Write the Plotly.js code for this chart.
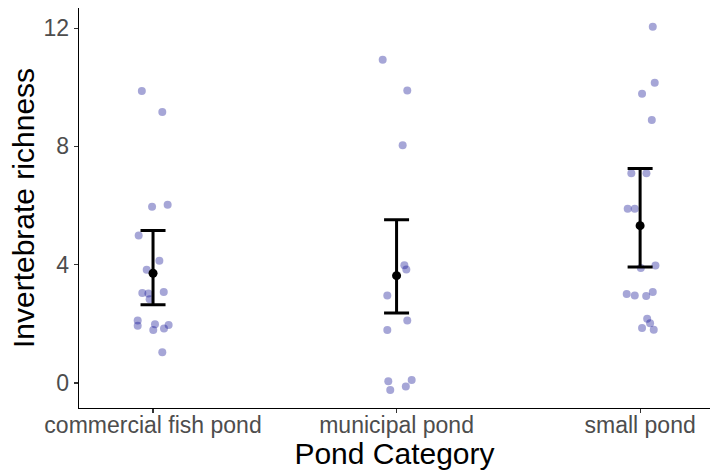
<!DOCTYPE html>
<html><head><meta charset="utf-8">
<script src="https://cdn.plot.ly/plotly-3.0.1.min.js"></script>
<style>body{margin:0;padding:0;background:#fff}#chart{width:710px;height:470px}</style>
</head><body><div id="chart"></div>
<script>
const categories = ["commercial fish pond", "municipal pond", "small pond"];

// observed (jittered) richness values per pond category
const commercialY = [9.87, 9.16, 5.96, 6.03, 4.99, 4.13, 3.83, 3.04, 3.03, 2.83, 3.08, 2.11, 1.94, 1.99, 1.79, 1.84, 1.96, 1.04];
const commercialJit = [-0.046, 0.038, -0.004, 0.060, -0.059, 0.026, -0.026, -0.044, -0.019, -0.014, 0.044, -0.063, -0.063, 0.008, 0.001, 0.045, 0.064, 0.038];
const municipalY = [10.93, 9.89, 8.04, 3.98, 3.84, 2.96, 2.11, 1.79, 0.06, -0.24, 0.10, -0.12];
const municipalJit = [-0.057, 0.044, 0.025, 0.032, 0.040, -0.038, 0.044, -0.038, -0.034, -0.026, 0.062, 0.038];
const smallY = [12.05, 10.15, 9.78, 8.89, 7.09, 7.09, 5.89, 5.89, 3.89, 3.97, 3.01, 2.96, 2.94, 3.08, 2.17, 2.02, 1.86, 1.80];
const smallJit = [0.052, 0.060, 0.008, 0.048, -0.036, 0.026, -0.051, -0.022, 0.003, 0.063, -0.055, -0.022, 0.025, 0.052, 0.029, 0.041, 0.008, 0.056];

// summary: mean and confidence interval
const means = [3.71, 3.63, 5.32];
const upper = [5.16, 5.52, 7.25];
const lower = [2.65, 2.37, 3.92];

const groupsY = [commercialY, municipalY, smallY];
const groupsJit = [commercialJit, municipalJit, smallJit];

const px = [], py = [];
groupsY.forEach((ys, g) => {
  ys.forEach((v, i) => { px.push(g + groupsJit[g][i]); py.push(v); });
});

const catIdx = categories.map((c, i) => i);

const traces = [
  {
    type: 'scatter', mode: 'markers', x: px, y: py, hoverinfo: 'skip',
    marker: {size: 8, color: 'rgba(0,0,139,0.35)', line: {width: 0}}
  },
  {
    type: 'scatter', mode: 'markers', x: catIdx, y: means,
    marker: {size: 9, color: '#000'},
    error_y: {
      type: 'data', symmetric: false,
      array: upper.map((u, i) => u - means[i]),
      arrayminus: means.map((m, i) => m - lower[i]),
      color: '#000', thickness: 3, width: 12.5
    }
  }
];

const layout = {
  width: 710, height: 470,
  margin: {l: 79, r: 0, t: 8, b: 62},
  paper_bgcolor: '#fff', plot_bgcolor: '#fff',
  showlegend: false,
  font: {family: 'Liberation Sans, Arial, sans-serif'},
  xaxis: {
    range: [-0.304, 2.287], tickvals: catIdx, ticktext: categories,
    showgrid: false, zeroline: false, showline: true, linecolor: '#000', linewidth: 1.3,
    ticks: 'outside', ticklen: 4, tickcolor: '#333', tickwidth: 1.1,
    tickfont: {size: 23, color: '#4d4d4d'}, ticklabelstandoff: -8,
    title: {text: 'Pond Category', font: {size: 30, color: '#000'}, standoff: 0}
  },
  yaxis: {
    range: [-0.845, 12.68], tickvals: [0, 4, 8, 12],
    showgrid: false, zeroline: false, showline: true, linecolor: '#000', linewidth: 1.3,
    ticks: 'outside', ticklen: 4, tickcolor: '#333', tickwidth: 1.1,
    tickfont: {size: 23, color: '#4d4d4d'},
    title: {text: 'Invertebrate richness', font: {size: 30, color: '#000'}, standoff: 0}
  }
};

Plotly.newPlot('chart', traces, layout, {displayModeBar: false, staticPlot: true});
</script></body></html>
